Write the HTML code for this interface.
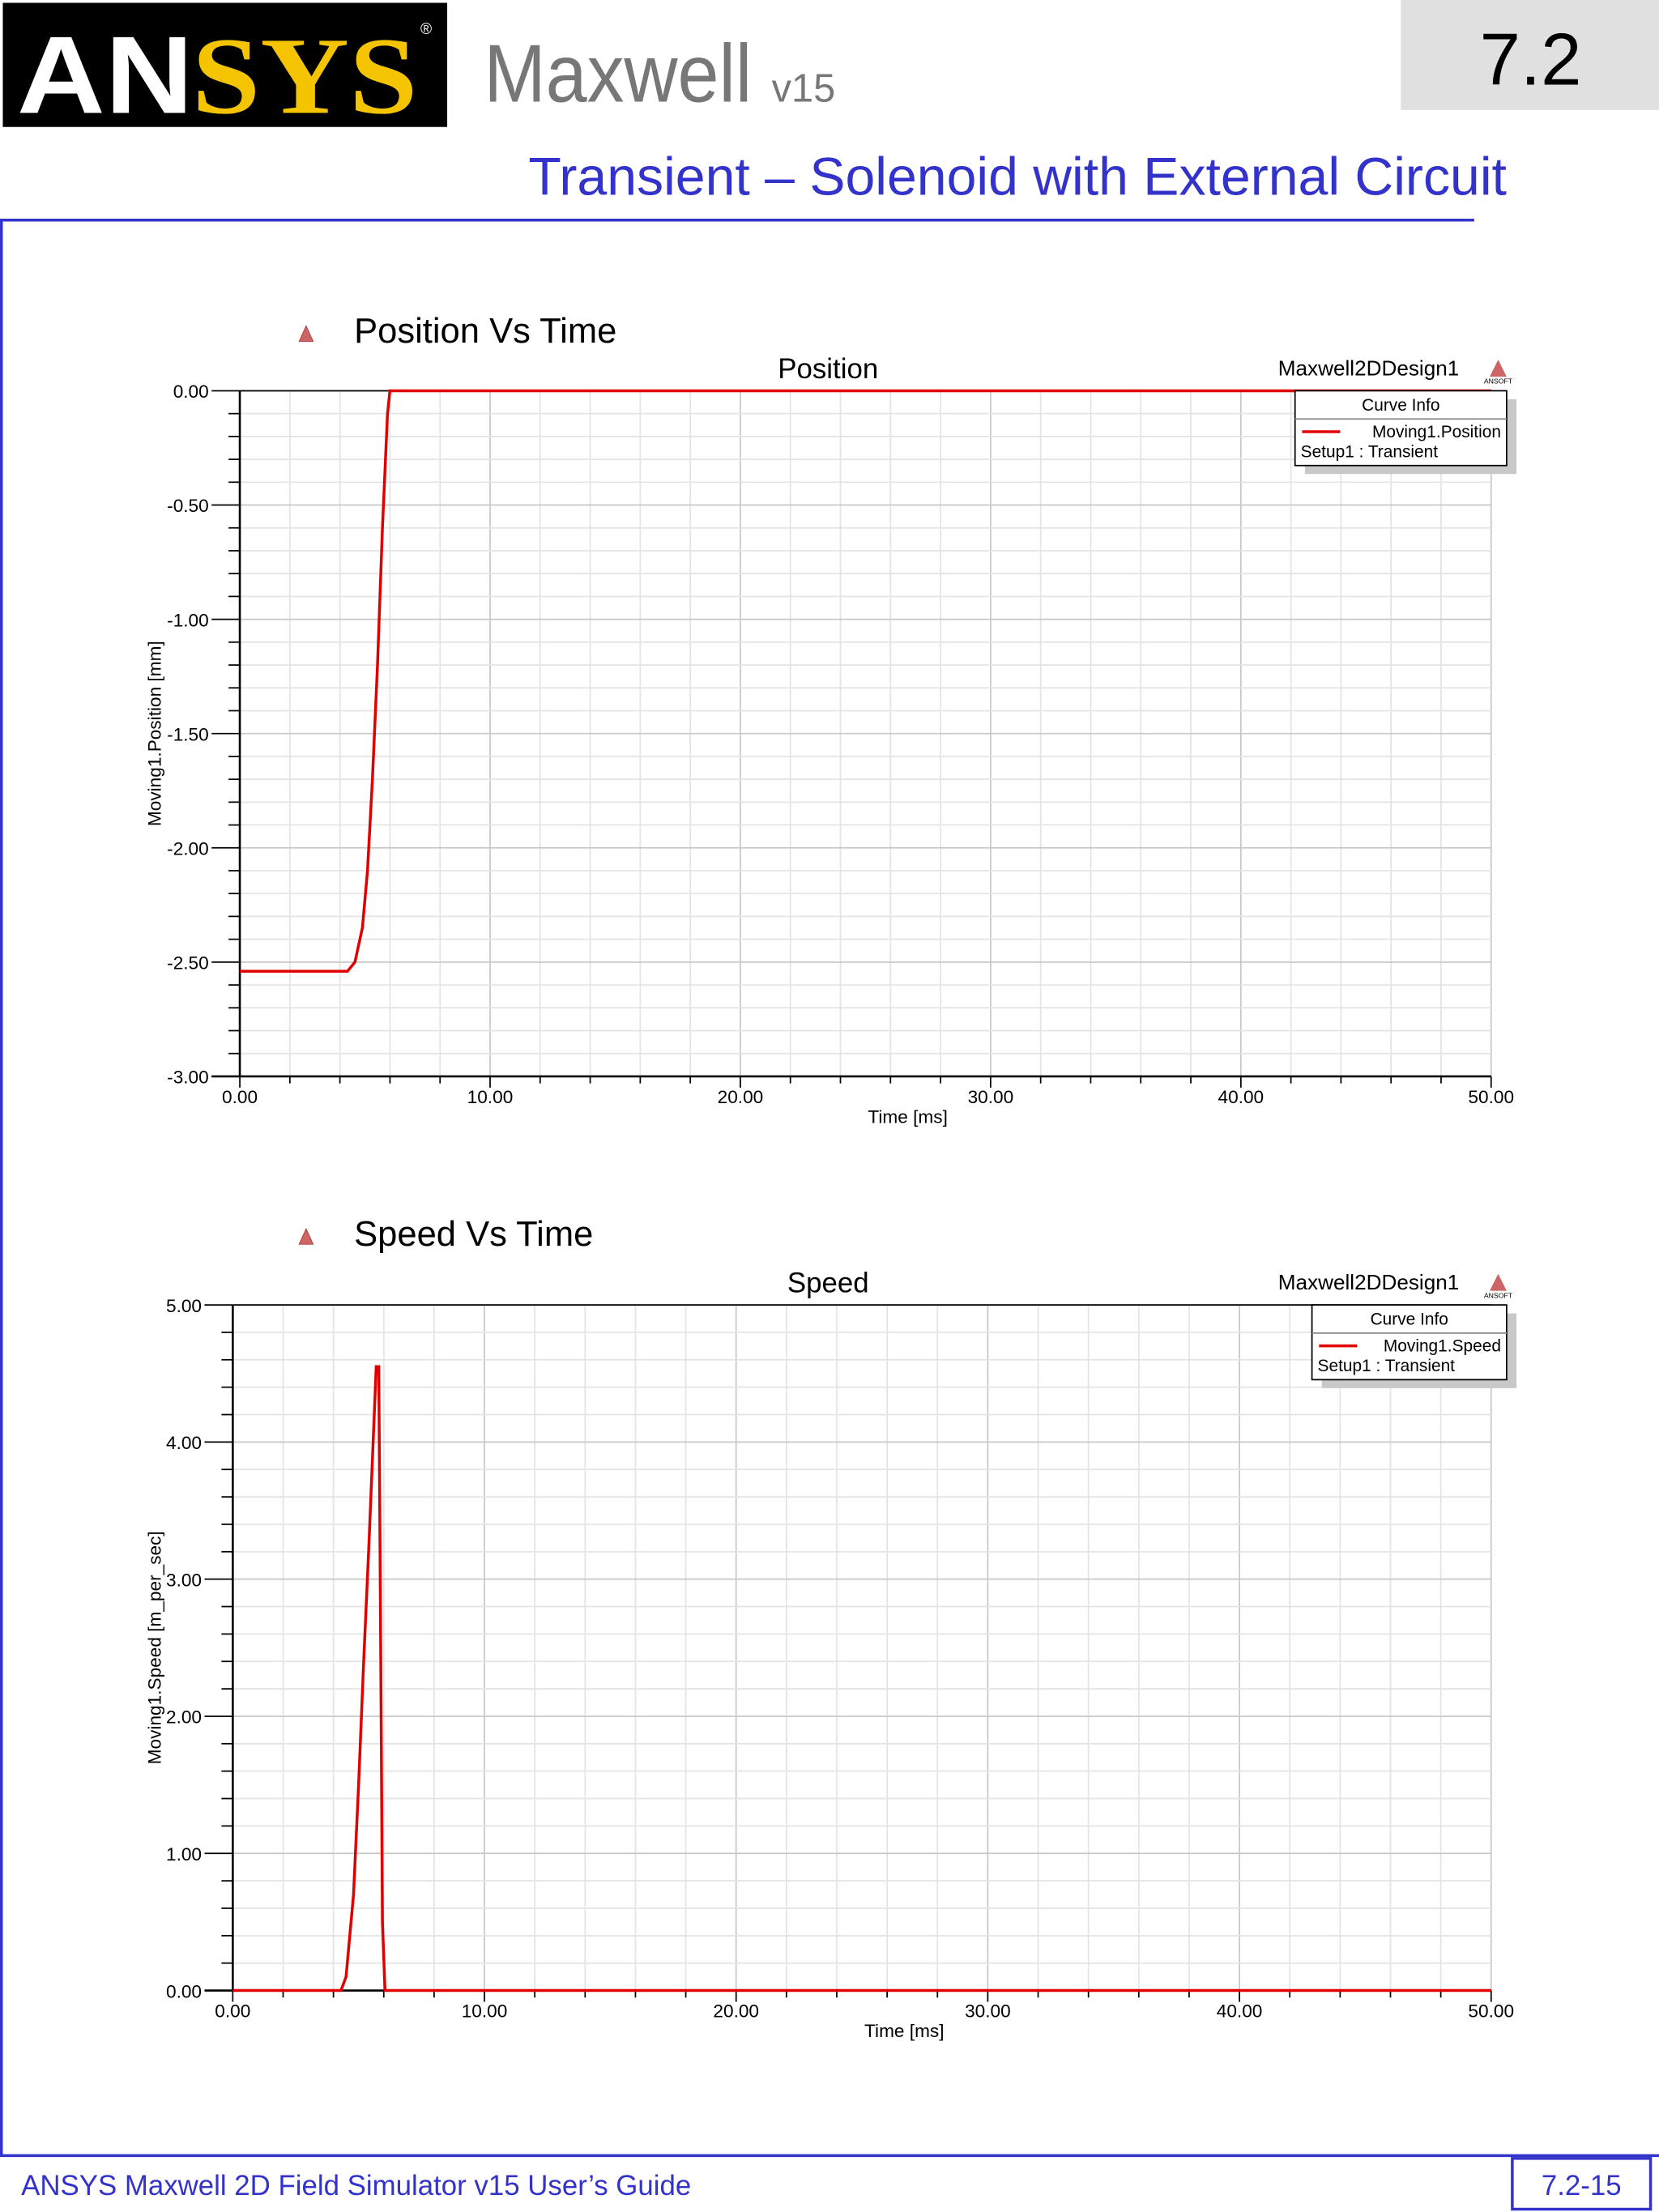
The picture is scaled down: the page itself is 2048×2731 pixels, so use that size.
<!DOCTYPE html>
<html><head><meta charset="utf-8"><style>
html,body{margin:0;padding:0;background:#fff;}
svg{display:block;font-family:"Liberation Sans",sans-serif;}
</style></head><body>
<svg id="page" width="2048" height="2731" viewBox="0 0 1176 1568" preserveAspectRatio="none" xmlns="http://www.w3.org/2000/svg">
<rect x="0" y="0" width="1176" height="1568" fill="#fff"/>
<g>
<rect x="2" y="2" width="315" height="88" fill="#000"/>
<text x="12" y="80" font-size="78" font-weight="bold" fill="#fff" textLength="125" lengthAdjust="spacingAndGlyphs">AN</text>
<text x="136" y="80" font-size="78" font-weight="bold" fill="#f5c400" font-family="Liberation Serif,serif" textLength="160" lengthAdjust="spacingAndGlyphs">SYS</text>
<text x="298" y="24" font-size="11" fill="#fff">®</text>
</g>
<text x="343" y="72" font-size="58" fill="#777" textLength="190" lengthAdjust="spacingAndGlyphs">Maxwell</text>
<text x="547" y="72" font-size="28" fill="#777">v15</text>
<rect x="993" y="0" width="183" height="78" fill="#e0e0e0"/>
<text x="1085" y="60" font-size="52" text-anchor="middle" fill="#000">7.2</text>
<text x="1068" y="138" font-size="38" text-anchor="end" fill="#3333cc">Transient – Solenoid with External Circuit</text>
<line x1="0" y1="156" x2="1045" y2="156" stroke="#3333cc" stroke-width="2"/>
<line x1="1" y1="156" x2="1" y2="1528" stroke="#3333cc" stroke-width="2"/>
<line x1="0" y1="1528" x2="1176" y2="1528" stroke="#3333cc" stroke-width="2"/>
<text x="15" y="1556" font-size="20" fill="#3333cc">ANSYS Maxwell 2D Field Simulator v15 User’s Guide</text>
<rect x="1072" y="1530" width="98" height="36" fill="#fff" stroke="#3333cc" stroke-width="2"/>
<text x="1121" y="1556" font-size="20" text-anchor="middle" fill="#3333cc">7.2-15</text>
<g id="charts"></g>
</svg>
<script>
const posTime = [0, 4.3, 4.6, 4.9, 5.1, 5.3, 5.5, 5.7, 5.9, 6.0, 50];
const posValues = [-2.54, -2.54, -2.50, -2.35, -2.1, -1.7, -1.2, -0.6, -0.1, 0, 0];
const posTicks = ["-3.00","-2.50","-2.00","-1.50","-1.00","-0.50","0.00"];
const speedTime = [0, 4.3, 4.5, 4.8, 5.0, 5.2, 5.4, 5.6, 5.7, 5.8, 5.85, 5.9, 5.95, 6.05, 50];
const speedValues = [0, 0, 0.1, 0.7, 1.5, 2.4, 3.2, 4.1, 4.55, 4.55, 3.2, 1.8, 0.5, 0, 0];
const speedTicks = ["0.00","1.00","2.00","3.00","4.00","5.00"];
const xTicks = ["0.00","10.00","20.00","30.00","40.00","50.00"];
const NS = "http://www.w3.org/2000/svg";
const root = document.getElementById('charts');
function mk(tag, attrs, parent, txt){const e=document.createElementNS(NS,tag);for(const k in attrs)e.setAttribute(k,attrs[k]);if(txt!==undefined)e.textContent=txt;parent.appendChild(e);return e;}
function chart(o){
  const g=mk('g',{},root);
  
  
  const {x0,x1,y0,y1,ymin,ymax}=o;
  const sx=v=>x0+(v-0)/50*(x1-x0);
  const sy=v=>y1-(v-ymin)/(ymax-ymin)*(y1-y0);
  // heading
  const ic=mk('path',{d:`M${o.hx-5} ${o.hy} L${o.hx} ${o.hy-11} L${o.hx+5} ${o.hy} Z`,fill:'#c66',stroke:'#a33','stroke-width':0.5},g);
  
  
  const h=mk('text',{x:o.hx+34,y:o.hy+1,'font-size':25,fill:'#000'},g,o.heading);
  
  
  const t=mk('text',{x:587,y:y0-9,'font-size':20,'text-anchor':'middle'},g,o.title);
  
  
  const d=mk('text',{x:906,y:y0-11,'font-size':15},g,'Maxwell2DDesign1');
  
  
  mk('path',{d:`M1056 ${y0-10} L1062 ${y0-22} L1068 ${y0-10} Z`,fill:'#c66'},g);
  mk('text',{x:1062,y:y0-5,'font-size':5,'text-anchor':'middle'},g,'ANSOFT');
  // grid
  const nyMaj=o.yt.length-1;
  for(let i=0;i<=25;i++){const x=x0+i*(x1-x0)/25;mk('line',{x1:x,y1:y0,x2:x,y2:y1,stroke:i%5==0?'#c8c8c8':'#e4e4e4','stroke-width':1},g);}
  for(let i=0;i<=nyMaj*5;i++){const y=y1-i*(y1-y0)/(nyMaj*5);mk('line',{x1:x0,y1:y,x2:x1,y2:y,stroke:i%5==0?'#c8c8c8':'#e4e4e4','stroke-width':1},g);
    mk('line',{x1:x0-(i%5==0?20:8),y1:y,x2:x0,y2:y,stroke:'#000','stroke-width':1},g);}
  for(let i=0;i<=25;i++){const x=x0+i*(x1-x0)/25;mk('line',{x1:x,y1:y1,x2:x,y2:y1+(i%5==0?8:5),stroke:'#000','stroke-width':1},g);}
  mk('line',{x1:x0,y1:y0,x2:x1,y2:y0,stroke:'#000','stroke-width':1},g);
  mk('line',{x1:x0,y1:y0,x2:x0,y2:y1,stroke:'#000','stroke-width':1.5},g);
  mk('line',{x1:x0-20,y1:y1,x2:x1,y2:y1,stroke:'#000','stroke-width':1.5},g);
  o.yt.forEach((s,i)=>{const y=y1-i*(y1-y0)/nyMaj;const e=mk('text',{x:x0-22,y:y+5,'font-size':13,'text-anchor':'end'},g,s);
    
    });
  xTicks.forEach((s,i)=>{const e=mk('text',{x:x0+i*(x1-x0)/5,y:y1+19,'font-size':13,'text-anchor':'middle'},g,s);
    
    });
  const xa=mk('text',{x:(x0+x1)/2+30,y:y1+33,'font-size':13,'text-anchor':'middle'},g,'Time [ms]');
  
  
  const ya=mk('text',{x:0,y:0,'font-size':13,'text-anchor':'middle',transform:`translate(114 ${(y0+y1)/2}) rotate(-90)`},g,o.ylabel);
  
  
  // series
  const pts=o.xs.map((v,i)=>sx(v).toFixed(1)+','+sy(o.ys[i]).toFixed(1)).join(' ');
  const ln=mk('polyline',{points:pts,fill:'none',stroke:'#e00000','stroke-width':2},g);
  
  
  // legend
  const lx=o.lx, lw=1068-lx;
  mk('rect',{x:lx+7,y:y0+6,width:lw,height:53,fill:'#c8c8c8'},g);
  const lg=mk('rect',{x:lx,y:y0,width:lw,height:53,fill:'#fff',stroke:'#000','stroke-width':1},g);
  
  
  mk('line',{x1:lx,y1:y0+20,x2:lx+lw,y2:y0+20,stroke:'#888'},g);
  mk('text',{x:lx+lw/2,y:y0+14,'font-size':12,'text-anchor':'middle'},g,'Curve Info');
  mk('line',{x1:lx+5,y1:y0+29,x2:lx+32,y2:y0+29,stroke:'#e00000','stroke-width':2},g);
  const le=mk('text',{x:lx+lw-4,y:y0+33,'font-size':12,'text-anchor':'end'},g,o.legend);
  
  
  mk('text',{x:lx+4,y:y0+47,'font-size':12},g,'Setup1 : Transient');
}
chart({name:'position-chart',x0:170,x1:1057,y0:277,y1:763,ymin:-3,ymax:0,yt:posTicks,xs:posTime,ys:posValues,
  heading:'Position Vs Time',hx:217,hy:242,title:'Position',ylabel:'Moving1.Position [mm]',legend:'Moving1.Position',lx:918});
chart({name:'speed-chart',x0:165,x1:1057,y0:925,y1:1411,ymin:0,ymax:5,yt:speedTicks,xs:speedTime,ys:speedValues,
  heading:'Speed Vs Time',hx:217,hy:882,title:'Speed',ylabel:'Moving1.Speed [m_per_sec]',legend:'Moving1.Speed',lx:930});
</script>
</body></html>
